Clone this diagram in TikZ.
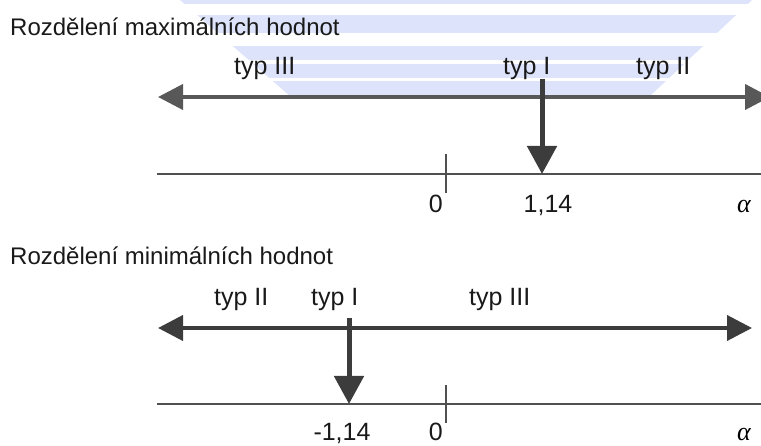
\documentclass[tikz,border=0pt]{standalone}
\usepackage{fontspec}
\setmainfont{Liberation Sans}
\newfontfamily\alphafont{Liberation Serif}
\usetikzlibrary{arrows.meta}
\definecolor{haze}{HTML}{DCE3FA}
\definecolor{arrowgray}{HTML}{585858}
\definecolor{arrowdark}{HTML}{3C3C3C}
\definecolor{axisgray}{HTML}{505050}

\begin{document}
\begin{tikzpicture}[x=1pt,y=-1pt,
  title/.style={font=\fontsize{24}{24}\selectfont, inner sep=0pt, anchor=base west, text=black!90},
  txt/.style={font=\fontsize{25}{25}\selectfont, inner sep=0pt, anchor=base west, text=black!90},
  num/.style={font=\fontsize{25}{25}\selectfont, inner sep=0pt, anchor=base, text=black!90},
  alf/.style={font=\alphafont\itshape\fontsize{26}{26}\selectfont, inner sep=0pt, anchor=base},
  spanarrow/.style={line width=4pt, {Triangle[length=25pt,width=25pt]}-{Triangle[length=25pt,width=25pt]}},
  hit/.style={line width=5pt, draw=arrowdark, -{Triangle[length=28pt,width=29pt]}},
  axisline/.style={draw=axisgray, line width=2pt},
  zerotick/.style={draw=axisgray, line width=1.5pt}]
  \useasboundingbox (0,0) rectangle (761,446);

  \begin{scope}
    \clip (180,0) -- (752,0) -- (650,96) -- (290,96) -- cycle;
    \foreach \ya/\yb in {0/4,15/33,46/60,64/78,81/95}
      \fill[haze] (0,\ya) rectangle (761,\yb);
  \end{scope}

  % maxima
  \node[title] (titlemax) at (10,36) {Rozdělení maximálních hodnot};
  \node[txt] (max3) at (234,75) {typ III};
  \node[txt] (max1) at (503,75) {typ I};
  \node[txt] (max2) at (636,75) {typ II};
  \coordinate (maxL) at (158,97);
  \coordinate (maxR) at (770,97);
  \draw[spanarrow, draw=arrowgray, fill=arrowgray] (maxL) -- (maxR);
  \coordinate (axmaxL) at (157,174);
  \coordinate (axmaxR) at (761,174);
  \draw[axisline] (axmaxL) -- (axmaxR);
  \coordinate (zmaxT) at (446,154);
  \coordinate (zmaxB) at (446,193);
  \draw[zerotick] (zmaxT) -- (zmaxB);
  \node[num, anchor=base east] (zmax) at (443,213) {0};
  \node[num] (gmax) at (548,213) {1,14};
  \node[alf] (amax) at (744,213) {α};
  \coordinate (hmaxT) at (542,79);
  \coordinate (hmaxB) at (542,174);
  \draw[hit, fill=arrowdark] (hmaxT) -- (hmaxB);

  % minima
  \node[title] (titlemin) at (10,265) {Rozdělení minimálních hodnot};
  \node[txt] (min2) at (214,306) {typ II};
  \node[txt] (min1) at (311,306) {typ I};
  \node[txt] (min3) at (469,306) {typ III};
  \coordinate (minL) at (158,328);
  \coordinate (minR) at (752,328);
  \draw[spanarrow, draw=arrowdark, fill=arrowdark] (minL) -- (minR);
  \coordinate (axminL) at (157,404);
  \coordinate (axminR) at (761,404);
  \draw[axisline] (axminL) -- (axminR);
  \coordinate (zminT) at (446,385);
  \coordinate (zminB) at (446,423);
  \draw[zerotick] (zminT) -- (zminB);
  \node[num, anchor=base east] (zmin) at (443,441) {0};
  \node[num] (gmin) at (342,441) {-1,14};
  \node[alf] (amin) at (744,441) {α};
  \coordinate (hminT) at (349,318);
  \coordinate (hminB) at (349,404);
  \draw[hit, fill=arrowdark] (hminT) -- (hminB);
\end{tikzpicture}
\end{document}
